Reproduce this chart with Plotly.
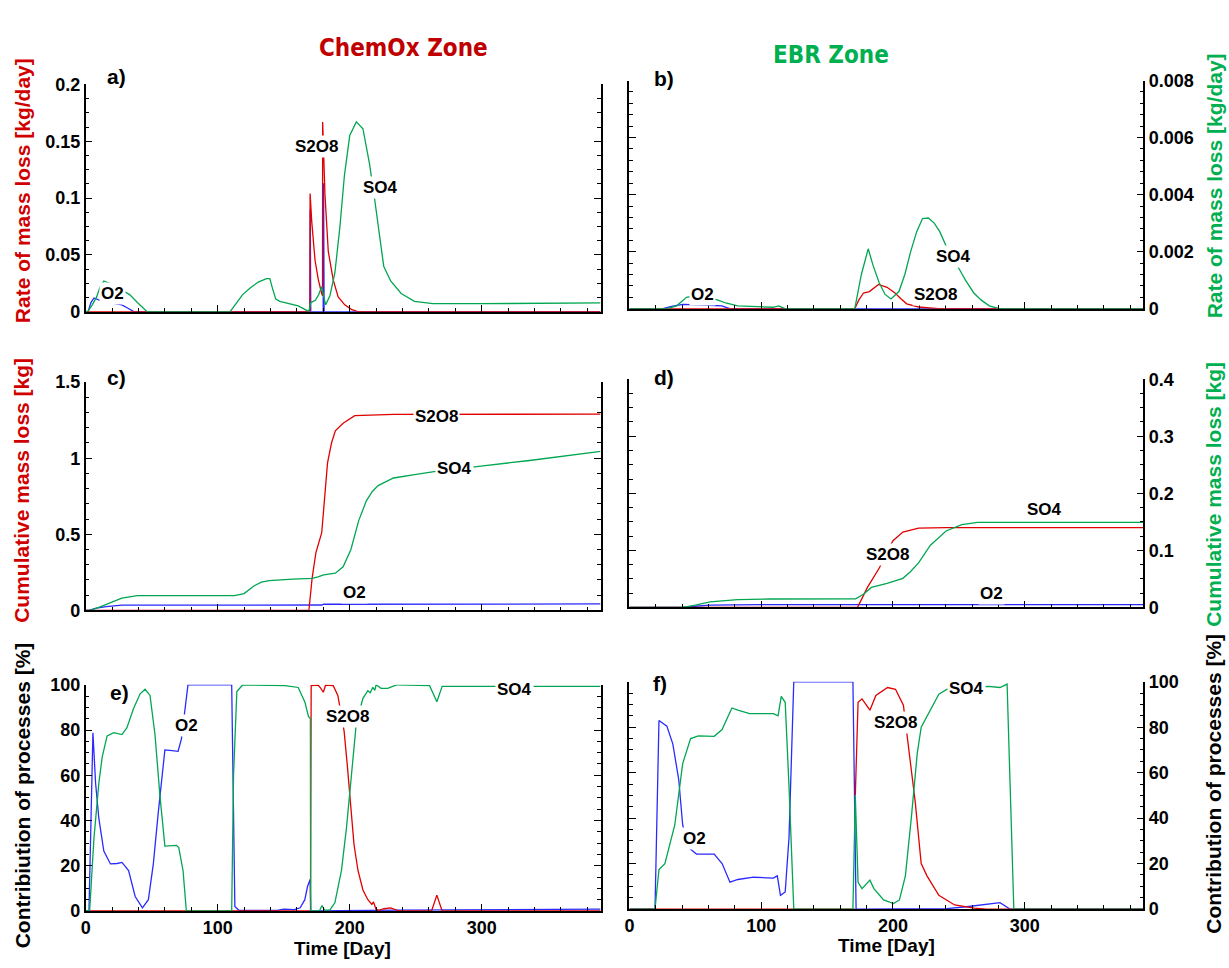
import plotly.graph_objects as go

W, H = 1229, 968
RED = "#e00000"
BLUE = "#2a2aff"
GREEN = "#00a651"
FONT = "Liberation Sans"
TITLE_FONT = "'DejaVu Sans Condensed', 'Liberation Sans', sans-serif"

# ---------------- data (day, value) ----------------
# a) ChemOx rate of mass loss [kg/day]
a_o2_day = [0, 1.8, 4, 6.3, 12.7, 20, 27.4, 32, 36.5, 169.8, 170.1, 170.5, 179.9, 180.2, 180.6, 390]
a_o2_val = [0, 0, 0.008, 0.012, 0.009, 0.0075, 0.006, 0.003, 0, 0, 0.09, 0, 0, 0.113, 0, 0]
a_so4_day = [0, 1.5, 5, 8.3, 11, 13.8, 18, 26, 33.3, 39.2, 46.5, 109.4, 115, 118.9, 124.8, 130.7, 137,
             139.5, 141.6, 144, 147, 152, 157, 161, 166, 169, 170.5, 174, 176.5, 178.75, 180,
             181.75, 185, 188.75, 192.5, 196, 200, 205, 210, 215, 218.75, 222.5, 225.75, 231, 239,
             249, 263, 300, 350, 390]
a_so4_val = [0, 0, 0.006, 0.013, 0.022, 0.027, 0.025, 0.02, 0.015, 0.008, 0, 0, 0.009, 0.015, 0.021,
             0.026, 0.029, 0.029, 0.02, 0.011, 0.009, 0.0075, 0.006, 0.005, 0.002, 0, 0.008, 0.01,
             0.015, 0.022, 0.015, 0.006, 0.014, 0.034, 0.074, 0.12, 0.155, 0.167, 0.161, 0.13, 0.10,
             0.066, 0.04, 0.027, 0.016, 0.009, 0.007, 0.007, 0.0075, 0.0077]
a_s2o8_day = [0, 169.9, 170, 171.25, 173.75, 176.25, 178.75, 179.4, 179.5, 180.3, 181.25, 183.75,
              187.5, 191.25, 196.25, 201.25, 206, 390]
a_s2o8_val = [0, 0, 0.104, 0.079, 0.045, 0.028, 0.016, 0.014, 0.167, 0.125, 0.103, 0.053, 0.028,
              0.013, 0.006, 0.002, 0, 0]

# b) EBR rate of mass loss [kg/day]
b_o2_day = [0, 25.4, 32, 40.3, 55, 70.1, 76.1, 390]
b_o2_val = [0, 0, 0.00008, 0.00015, 0.00013, 0.0001, 0, 0]
b_so4_day = [0, 28.4, 35.8, 43.3, 50, 60, 67.2, 73.1, 82.1, 100, 109, 113.4, 117.9, 171, 176, 181.2,
             185, 189.6, 194, 198.5, 204.5, 209, 213.4, 218, 222.4, 226.9, 231.3, 235.5, 240.3,
             249.3, 255, 261.2, 267, 273.1, 280.6, 390]
b_so4_val = [0, 0, 0.0001, 0.0004, 0.00045, 0.0004, 0.0003, 0.0002, 0.0001, 0.00006, 0.00005,
             0.0001, 0, 0, 0.0012, 0.0021, 0.0015, 0.0009, 0.0005, 0.00034, 0.0006, 0.0012, 0.002,
             0.0027, 0.00316, 0.00318, 0.003, 0.0027, 0.0022, 0.00147, 0.001, 0.00056, 0.0003,
             0.0001, 0, 0]
b_s2o8_day = [0, 171, 174, 177.6, 182.1, 185, 189, 195.5, 201.5, 206, 210.4, 219.4, 234.3, 390]
b_s2o8_val = [0, 0, 0.0003, 0.00055, 0.0006, 0.0007, 0.00085, 0.00075, 0.00055, 0.00035, 0.00017,
              0.00006, 0, 0]

# c) ChemOx cumulative mass loss [kg]
c_o2_day = [0, 2.4, 8, 15.6, 27.4, 178.8, 180.3, 390]
c_o2_val = [0, 0, 0.015, 0.025, 0.034, 0.035, 0.04, 0.042]
c_so4_day = [0, 3.8, 10, 15.6, 27.4, 39.1, 112.6, 120, 127.4, 133, 139.1, 156.8, 171.5, 176, 180.3,
             189.1, 195, 200.9, 206.8, 212.6, 217, 221.5, 233.2, 247.9, 262.6, 300.9, 336.2, 390]
c_so4_val = [0, 0, 0.02, 0.04, 0.08, 0.097, 0.097, 0.11, 0.16, 0.185, 0.195, 0.205, 0.21, 0.22,
             0.233, 0.244, 0.286, 0.40, 0.59, 0.72, 0.78, 0.82, 0.87, 0.89, 0.91, 0.95, 0.985, 1.045]
c_s2o8_day = [0, 169.1, 171.5, 174.4, 178.8, 180.9, 183.2, 186.2, 189.1, 195, 203.8, 233.2, 390]
c_s2o8_val = [0, 0, 0.21, 0.38, 0.51, 0.72, 0.97, 1.10, 1.18, 1.23, 1.28, 1.288, 1.29]

# d) EBR cumulative mass loss [kg]
d_o2_day = [0, 40.3, 50, 61.2, 100, 390]
d_o2_val = [0, 0, 0.002, 0.004, 0.005, 0.005]
d_so4_day = [0, 40.3, 50, 61.2, 82.1, 106, 171.6, 177.6, 183.6, 195.5, 207.5, 213, 219.4, 228.4,
             240.3, 252.2, 264.2, 390]
d_so4_val = [0, 0, 0.004, 0.0096, 0.0136, 0.0147, 0.015, 0.023, 0.035, 0.042, 0.051, 0.062, 0.078,
             0.109, 0.134, 0.145, 0.149, 0.149]
d_s2o8_day = [0, 173.1, 180.6, 189.6, 200, 207.5, 219.4, 240.3, 390]
d_s2o8_val = [0, 0, 0.035, 0.069, 0.117, 0.132, 0.139, 0.14, 0.14]

# e) ChemOx contribution of processes [%]
e_o2_day = [0, 2.5, 5.5, 7.5, 10, 13.75, 18.75, 23.75, 27.5, 32.5, 37.5, 43, 47.5, 51.25, 55, 60,
            63.75, 70, 72.5, 75, 77.5, 110.6, 113, 116, 145, 150, 158, 162.5, 166, 168, 170, 170.5,
            236, 390]
e_o2_val = [0, 0, 78.8, 56.6, 40.8, 26.5, 20.8, 21, 21.5, 17.9, 6.4, 1.4, 5, 20.8, 43.6, 71.2, 71,
            70.6, 76, 88, 100, 100, 2, 0.3, 0.3, 0.8, 0.6, 1.4, 5, 10.7, 13.9, 0, 0.4, 0.8]
e_so4_day = [0, 3, 6.25, 10, 12.5, 16.25, 21.25, 27.5, 31.25, 36.25, 41.25, 45, 48.75, 52.5, 56.25,
             60, 68.75, 70.5, 73.75, 76.25, 110.6, 112, 114.5, 119, 151, 161, 166, 168.75, 170.2,
             170.4, 177, 179, 181, 185, 188.75, 193.75, 197.5, 200, 202.5, 205, 210, 213.75, 215.5,
             217.5, 219, 220, 223.75, 228.75, 236, 260.5, 266, 270, 390]
e_so4_val = [0, 0, 32, 56.6, 68, 77.4, 78.8, 78, 81, 89.5, 96, 98, 95.3, 78, 51, 28.7, 29, 28, 17.9,
             0, 0, 60, 97, 100, 99.6, 98.8, 92.4, 86, 85, 0, 0, 2.4, 0.4, 0.5, 3.6, 18, 36.5, 51, 68,
             83, 94, 97.4, 96.5, 98.9, 97.5, 100, 98.4, 98.4, 100, 99.6, 92.5, 99.3, 99.3]
e_s2o8_day = [0, 170.3, 170.8, 176, 178, 180, 181.75, 187.5, 191, 195.75, 198.25, 200.75, 203.25,
              206.25, 210, 213.75, 216.75, 218, 220, 222, 226, 231, 237.5, 262, 266, 270, 390]
e_s2o8_val = [0, 0, 99.6, 99.9, 98.5, 96.7, 99.9, 99.6, 95.3, 79.5, 63.8, 46.6, 29.4, 17.9, 9.3, 5,
              2.9, 4, 0.7, 0.3, 1, 1.4, 0, 0, 7, 0, 0]

# f) EBR contribution of processes [%]
f_o2_day = [0, 19.4, 22.4, 28.4, 32.9, 37.4, 40.4, 44.9, 50.9, 64.3, 70.3, 76.3, 82.3, 94.2, 109.2,
            112.2, 114.6, 118.2, 121.1, 124.7, 169.6, 172, 240.8, 255.8, 281.2, 288.7, 390]
f_o2_val = [0, 0, 83, 80.5, 72.7, 57, 37, 27, 24.2, 24.2, 20, 11.8, 13, 14, 13.6, 14.6, 6, 7.5,
            31.5, 100, 100, 0, 0.2, 1, 2.8, 0, 0]
f_so4_day = [0, 19.4, 22.4, 26.9, 34.4, 40.4, 46.4, 52.3, 64.3, 70.3, 74.8, 77.8, 82.3, 91.2, 109.2,
             112.8, 115.2, 118.2, 121.1, 124.7, 169.6, 171.4, 173.5, 176.5, 182.5, 185.5, 192.9,
             200.4, 204.9, 209.4, 213.9, 218.4, 221.4, 225.8, 234.8, 240.8, 272.2, 281.2, 286.6,
             291.7, 390]
f_so4_val = [0, 0, 17.4, 20, 37, 64, 75, 76.2, 76, 79, 84.7, 88.5, 87.5, 86, 86, 85, 93.6, 91, 54, 0,
             0, 50, 11.8, 9, 12.7, 9, 4, 2.4, 4, 14.6, 40, 68.4, 80, 84.7, 94.6, 96.7, 98, 97.5, 99,
             0, 0]
f_s2o8_day = [0, 171.3, None, 171.4, 173.5, 176.5, 182.5, 187, 195.9, 201.9, 207.9, 210.9, 216.9,
              221.4, 225.8, 234.8, 246.8, 261.7, 270.7, 390]
f_s2o8_val = [0, 0, None, 50, 91, 92.5, 87.5, 94, 97.5, 96.7, 89.7, 75.5, 47, 20, 14.6, 6, 1.8, 0.4,
              0, 0]

# inline labels: (text, day, value)
a_labels = [("O2", 20, 0.0156), ("S2O8", 175, 0.1455), ("SO4", 223.6, 0.109)]
b_labels = [("O2", 55.8, 0.00049), ("SO4", 246, 0.00183), ("S2O8", 232, 0.00051)]
c_labels = [("S2O8", 265.6, 1.275), ("SO4", 279, 0.932), ("O2", 203.8, 0.117)]
d_labels = [("SO4", 315, 0.171), ("S2O8", 195.5, 0.092), ("O2", 274.6, 0.025)]
e_labels = [("O2", 76.7, 82.2), ("S2O8", 198, 86), ("SO4", 325, 97.7)]
f_labels = [("O2", 49.4, 31.2), ("S2O8", 202, 81.9), ("SO4", 255.8, 97.2)]

x_range = [0, 390]
x_ticks = [0, 100, 200, 300]

# ---------------- layout helpers ----------------
def pxx(x):
    return x / W

def pxy(y):
    return 1 - y / H

panels = [
    # name, xaxis, yaxis, x px range, y px range, y range, major, minor, side, letter (dx, dy)
    ("a", "x", "y", (81, 598), (76, 308), [0, 0.2], 0.05, 0.0125, "left", (19, -8)),
    ("b", "x2", "y2", (627, 1143), (72, 305), [0, 0.008], 0.002, 0.0004, "right", (23, -2)),
    ("c", "x3", "y3", (81, 598), (380, 613), [0, 1.5], 0.5, 0.1, "left", (19, -5)),
    ("d", "x4", "y4", (627, 1143), (377, 610), [0, 0.4], 0.1, 0.025, "right", (23, -2)),
    ("e", "x5", "y5", (81, 598), (689, 920), [0, 100], 20, 5, "left", (22, 8)),
    ("f", "x6", "y6", (627, 1143), (686, 918), [0, 100], 20, 5, "right", (22, 2)),
]

series = {
    "a": [(a_o2_day, a_o2_val, BLUE), (a_s2o8_day, a_s2o8_val, RED), (a_so4_day, a_so4_val, GREEN)],
    "b": [(b_o2_day, b_o2_val, BLUE), (b_s2o8_day, b_s2o8_val, RED), (b_so4_day, b_so4_val, GREEN)],
    "c": [(c_o2_day, c_o2_val, BLUE), (c_s2o8_day, c_s2o8_val, RED), (c_so4_day, c_so4_val, GREEN)],
    "d": [(d_o2_day, d_o2_val, BLUE), (d_s2o8_day, d_s2o8_val, RED), (d_so4_day, d_so4_val, GREEN)],
    "e": [(e_o2_day, e_o2_val, BLUE), (e_s2o8_day, e_s2o8_val, RED), (e_so4_day, e_so4_val, GREEN)],
    "f": [(f_o2_day, f_o2_val, BLUE), (f_s2o8_day, f_s2o8_val, RED), (f_so4_day, f_so4_val, GREEN)],
}
labels = {"a": a_labels, "b": b_labels, "c": c_labels, "d": d_labels, "e": e_labels, "f": f_labels}

fig = go.Figure()
layout = dict(
    width=W, height=H, margin=dict(l=0, r=0, t=0, b=0),
    paper_bgcolor="white", plot_bgcolor="white", showlegend=False,
    font=dict(family=FONT, color="black"),
)
annotations = []
TICKFONT = dict(family=FONT, size=18, color="black", weight="bold")

for name, xa, ya, (x0, x1), (y0, y1), yr, major, minor, side, (ldx, ldy) in panels:
    for xs, ys, col in series[name]:
        fig.add_trace(go.Scatter(x=xs, y=ys, mode="lines", xaxis=xa, yaxis=ya,
                                 line=dict(color=col, width=1.3), hoverinfo="skip",
                                 connectgaps=False))
    bottom = name in ("e", "f")
    xkey = "xaxis" if xa == "x" else "xaxis" + xa[1:]
    ykey = "yaxis" if ya == "y" else "yaxis" + ya[1:]
    layout[xkey] = dict(
        domain=[pxx(x0), pxx(x1)], anchor=ya, range=x_range,
        showgrid=False, zeroline=False, showline=True, linecolor="black", linewidth=1.5,
        ticks="inside", ticklen=7, tickwidth=1.3, tickcolor="black",
        tickvals=x_ticks, showticklabels=bottom, tickfont=TICKFONT,
        minor=dict(dtick=20, tick0=0, ticks="inside", ticklen=4, tickcolor="black", tickwidth=1),
    )
    layout[ykey] = dict(
        domain=[pxy(y1), pxy(y0)], anchor=xa, range=yr, side=side,
        showgrid=False, zeroline=False, showline=True, linecolor="black", linewidth=1.5,
        mirror="ticks", ticks="inside", ticklen=7, tickwidth=1.3, tickcolor="black",
        dtick=major, tick0=0, tickfont=TICKFONT,
        minor=dict(dtick=minor, tick0=0, ticks="inside", ticklen=4, tickcolor="black", tickwidth=1),
    )
    for text, xd, yd in labels[name]:
        annotations.append(dict(
            text=text, x=xd, y=yd, xref=xa, yref=ya, showarrow=False,
            font=dict(family=FONT, size=17, color="black", weight="bold"),
            bgcolor="white", borderpad=1,
        ))
    annotations.append(dict(
        text=name + ")", x=pxx(x0 + ldx), y=pxy(y0 + ldy),
        xref="paper", yref="paper", xanchor="left", yanchor="middle", showarrow=False,
        font=dict(family=FONT, size=21, color="black", weight="bold"),
    ))

# axis titles
ytitles = [
    ("Rate of mass loss [kg/day]", 17, 184, "#d00000"),
    ("Cumulative mass loss [kg]", 17, 490, "#d00000"),
    ("Contribiution of processes [%]", 17, 802, "black"),
    ("Rate of mass loss [kg/day]", 1214, 180, "#00b050"),
    ("Cumulative mass loss [kg]", 1214, 495, "#00b050"),
    ("Contribution of processes [%]", 1214, 790, "black"),
]
for text, x, y, col in ytitles:
    annotations.append(dict(
        text=text, x=pxx(x), y=pxy(y), xref="paper", yref="paper", textangle=-90,
        xanchor="center", yanchor="middle", showarrow=False,
        font=dict(family=FONT, size=21, color=col, weight="bold"),
    ))
for x, y in [(339, 958), (885, 955)]:
    annotations.append(dict(
        text="Time [Day]", x=pxx(x), y=pxy(y), xref="paper", yref="paper",
        xanchor="center", yanchor="middle", showarrow=False,
        font=dict(family=FONT, size=19, color="black", weight="bold"),
    ))

# zone titles
annotations.append(dict(text="ChemOx Zone", x=pxx(313), y=pxy(22), xref="paper", yref="paper",
                        showarrow=False, font=dict(family=TITLE_FONT, size=24,
                                                   color="#c00000", weight="bold")))
annotations.append(dict(text="EBR Zone", x=pxx(890), y=pxy(30), xref="paper", yref="paper",
                        showarrow=False, font=dict(family=TITLE_FONT, size=24,
                                                   color="#00b050", weight="bold")))

layout["annotations"] = annotations
fig.update_layout(**layout)
fig.write_html("out.html")
